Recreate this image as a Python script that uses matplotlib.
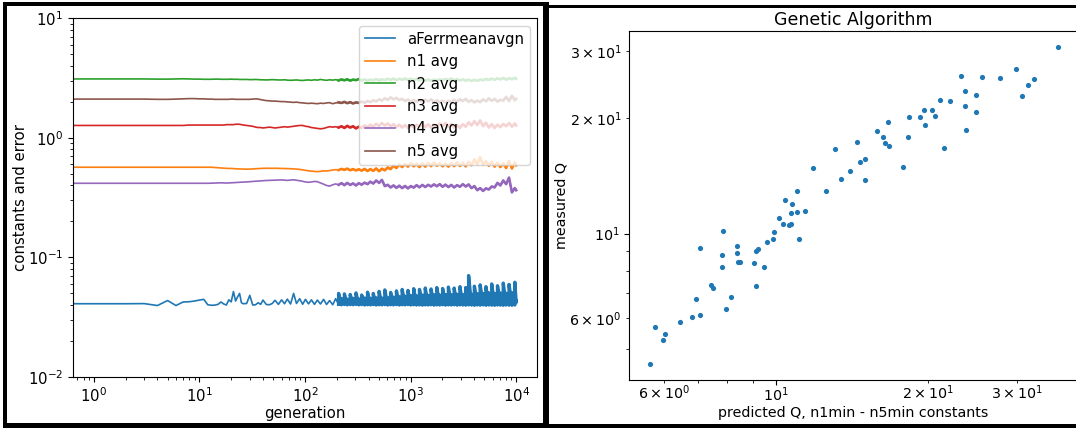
import matplotlib
matplotlib.use("Agg")
import matplotlib.pyplot as plt
from matplotlib.patches import Rectangle

W, H = 1076, 428

# ---- GA run history: per-generation averages ----
generation = [
    0, 1, 2, 3, 4, 5, 6, 7, 8, 9, 10, 11, 12, 13, 14, 15, 16, 17, 18, 19,
    20, 21, 22, 23, 24, 25, 26,
    28, 30, 32, 34, 36, 38, 40, 43, 46, 49, 52, 56, 60, 64, 68, 73, 78, 83, 89, 95,
    101, 108, 115, 123, 131, 140, 150, 160, 171, 183, 195,
    208, 222, 236, 251, 268, 285, 304, 323, 344, 367, 391, 416, 443, 472, 503, 535,
    570, 607, 647, 689, 734, 781, 832, 886, 944, 1005, 1071, 1140, 1214, 1293,
    1377, 1467, 1562, 1664, 1772, 1887, 2010, 2141, 2280, 2428, 2586, 2754, 2933,
    3124, 3327, 3543, 3773, 4019, 4280, 4558, 4854, 5170, 5506, 5864, 6245, 6651,
    7083, 7544, 8034, 8556, 9113, 9705, 9999,
]

err_avg = [
    0.0410, 0.0410, 0.0410, 0.0411, 0.0396, 0.0436, 0.0396, 0.0424, 0.0426, 0.0432,
    0.0440, 0.0446, 0.0402, 0.0398, 0.0399, 0.0405, 0.0424, 0.0408, 0.0400, 0.0442,
    0.0425, 0.0518, 0.0432, 0.0468, 0.0500, 0.0418, 0.0410,
    0.0412, 0.0482, 0.0400, 0.0402, 0.0418, 0.0405, 0.0440, 0.0404, 0.0402, 0.0412,
    0.0438, 0.0405, 0.0442, 0.0410, 0.0448, 0.0408, 0.0500, 0.0412, 0.0452, 0.0406,
    0.0446, 0.0409, 0.0442, 0.0405, 0.0440, 0.0408, 0.0446, 0.0404, 0.0436, 0.0402,
    0.0452,
    0.0405, 0.0402, 0.0404, 0.0401, 0.0403, 0.0402, 0.0404, 0.0401, 0.0403, 0.0400,
    0.0402, 0.0401, 0.0403, 0.0400, 0.0402, 0.0401, 0.0403, 0.0400, 0.0402, 0.0401,
    0.0403, 0.0400, 0.0402, 0.0401, 0.0403, 0.0400, 0.0402, 0.0400, 0.0401, 0.0399,
    0.0401, 0.0400, 0.0402, 0.0399, 0.0401, 0.0400, 0.0402, 0.0399, 0.0401, 0.0400,
    0.0402, 0.0399, 0.0401, 0.0400, 0.0399, 0.0401, 0.0400, 0.0398, 0.0400, 0.0399,
    0.0401, 0.0398, 0.0400, 0.0399, 0.0398, 0.0400, 0.0399, 0.0398, 0.0400, 0.0399,
    0.0398, 0.0400, 0.0420,
]

# upper excursions of the error trace from generation 208 onward
err_peak = [
    0.0500, 0.0452, 0.0495, 0.0448, 0.0490, 0.0455, 0.0505, 0.0450, 0.0485, 0.0458,
    0.0512, 0.0455, 0.0500, 0.0460, 0.0520, 0.0458, 0.0535, 0.0462, 0.0510, 0.0465,
    0.0525, 0.0470, 0.0540, 0.0475, 0.0530, 0.0480, 0.0548, 0.0478, 0.0540, 0.0485,
    0.0555, 0.0482, 0.0545, 0.0488, 0.0560, 0.0485, 0.0550, 0.0490, 0.0565, 0.0488,
    0.0555, 0.0492, 0.0570, 0.0490, 0.0560, 0.0705, 0.0495, 0.0575, 0.0498, 0.0590,
    0.0500, 0.0570, 0.0505, 0.0600, 0.0500, 0.0580, 0.0505, 0.0610, 0.0502, 0.0595,
    0.0508, 0.0620, 0.0430,
]

n1_avg = [
    0.568, 0.568, 0.568, 0.568, 0.568, 0.568, 0.568, 0.568, 0.568, 0.568,
    0.568, 0.568, 0.568, 0.568, 0.565, 0.563, 0.560, 0.558, 0.556, 0.555,
    0.555, 0.553, 0.552, 0.550, 0.550, 0.549, 0.548,
    0.547, 0.548, 0.550, 0.552, 0.553, 0.555, 0.556, 0.557, 0.557, 0.556,
    0.557, 0.556, 0.555, 0.554, 0.553, 0.552, 0.550, 0.548, 0.545, 0.540,
    0.535, 0.530, 0.527, 0.524, 0.522, 0.525, 0.530, 0.528, 0.533, 0.538,
    0.542,
    0.538, 0.550, 0.540, 0.553, 0.536, 0.548, 0.534, 0.546, 0.532, 0.550,
    0.528, 0.548, 0.530, 0.555, 0.526, 0.552, 0.535, 0.565, 0.548, 0.585,
    0.560, 0.598, 0.570, 0.605, 0.575, 0.615, 0.578, 0.608, 0.570, 0.612,
    0.575, 0.618, 0.580, 0.622, 0.585, 0.612, 0.578, 0.608, 0.575, 0.615,
    0.580, 0.625, 0.582, 0.618, 0.578, 0.630, 0.590, 0.660, 0.600, 0.690,
    0.595, 0.640, 0.585, 0.628, 0.575, 0.620, 0.570, 0.612, 0.560, 0.640,
    0.555, 0.625, 0.590,
]

n2_avg = [
    3.11, 3.11, 3.11, 3.11, 3.10, 3.10, 3.11, 3.12, 3.11, 3.10,
    3.10, 3.09, 3.09, 3.09, 3.10, 3.10, 3.09, 3.09, 3.09, 3.09,
    3.10, 3.09, 3.09, 3.09, 3.08, 3.08, 3.08,
    3.08, 3.07, 3.07, 3.08, 3.07, 3.06, 3.06, 3.05, 3.06, 3.07,
    3.06, 3.05, 3.05, 3.06, 3.04, 3.03, 3.04, 3.05, 3.03, 3.02,
    3.04, 3.05, 3.03, 3.06, 3.04, 3.08, 3.05, 3.03, 3.06, 3.04,
    3.07,
    3.02, 3.08, 3.03, 3.09, 3.01, 3.07, 3.04, 3.10, 3.02, 3.08,
    3.00, 3.07, 3.03, 3.10, 3.02, 3.09, 3.04, 3.12, 3.05, 3.13,
    3.04, 3.12, 3.06, 3.14, 3.05, 3.12, 3.03, 3.11, 3.02, 3.09,
    3.01, 3.08, 3.00, 3.07, 3.02, 3.09, 3.03, 3.11, 3.05, 3.13,
    3.04, 3.10, 3.02, 3.08, 3.01, 3.07, 2.99, 3.06, 3.00, 3.08,
    3.03, 3.11, 3.05, 3.13, 3.06, 3.15, 3.08, 3.17, 3.07, 3.16,
    3.09, 3.18, 3.12,
]

n3_avg = [
    1.27, 1.27, 1.27, 1.27, 1.27, 1.27, 1.27, 1.27, 1.28, 1.28,
    1.28, 1.28, 1.28, 1.28, 1.28, 1.28, 1.28, 1.28, 1.29, 1.29,
    1.29, 1.29, 1.30, 1.30, 1.30, 1.29, 1.28,
    1.27, 1.26, 1.25, 1.23, 1.22, 1.22, 1.21, 1.22, 1.23, 1.22,
    1.21, 1.22, 1.23, 1.24, 1.23, 1.24, 1.25, 1.26, 1.27, 1.27,
    1.25, 1.24, 1.22, 1.21, 1.20, 1.19, 1.20, 1.22, 1.24, 1.23,
    1.24,
    1.22, 1.25, 1.21, 1.26, 1.22, 1.25, 1.20, 1.24, 1.21, 1.27,
    1.23, 1.29, 1.24, 1.31, 1.26, 1.33, 1.27, 1.32, 1.25, 1.30,
    1.23, 1.29, 1.22, 1.28, 1.21, 1.27, 1.22, 1.29, 1.24, 1.31,
    1.23, 1.30, 1.22, 1.29, 1.24, 1.32, 1.25, 1.33, 1.24, 1.31,
    1.22, 1.28, 1.21, 1.30, 1.24, 1.35, 1.27, 1.38, 1.28, 1.40,
    1.25, 1.34, 1.22, 1.30, 1.21, 1.29, 1.23, 1.31, 1.25, 1.33,
    1.24, 1.32, 1.27,
]

n4_avg = [
    0.417, 0.417, 0.417, 0.417, 0.417, 0.417, 0.417, 0.417, 0.417, 0.417,
    0.417, 0.417, 0.417, 0.418, 0.419, 0.420, 0.421, 0.420, 0.419, 0.420,
    0.421, 0.422, 0.423, 0.424, 0.425, 0.426, 0.427,
    0.428, 0.430, 0.432, 0.434, 0.435, 0.437, 0.438, 0.440, 0.441, 0.442,
    0.443, 0.444, 0.445, 0.443, 0.441, 0.444, 0.446, 0.442, 0.438, 0.433,
    0.428, 0.425, 0.428, 0.432, 0.430, 0.420, 0.410, 0.400, 0.395, 0.405,
    0.412,
    0.405, 0.418, 0.402, 0.420, 0.404, 0.416, 0.400, 0.418, 0.406, 0.422,
    0.410, 0.430, 0.415, 0.440, 0.420, 0.445, 0.395, 0.405, 0.385, 0.400,
    0.382, 0.398, 0.380, 0.396, 0.378, 0.395, 0.384, 0.402, 0.386, 0.404,
    0.388, 0.405, 0.392, 0.408, 0.394, 0.410, 0.390, 0.406, 0.388, 0.404,
    0.385, 0.402, 0.390, 0.410, 0.392, 0.408, 0.380, 0.395, 0.365, 0.380,
    0.360, 0.378, 0.370, 0.392, 0.385, 0.420, 0.400, 0.440, 0.410, 0.465,
    0.350, 0.380, 0.365,
]

n5_avg = [
    2.11, 2.11, 2.11, 2.11, 2.10, 2.10, 2.11, 2.12, 2.13, 2.13,
    2.12, 2.12, 2.11, 2.11, 2.10, 2.10, 2.10, 2.10, 2.10, 2.10,
    2.11, 2.11, 2.10, 2.10, 2.10, 2.10, 2.10,
    2.10, 2.10, 2.11, 2.12, 2.11, 2.09, 2.07, 2.05, 2.04, 2.03,
    2.03, 2.02, 2.01, 2.01, 2.00, 1.99, 1.98, 1.99, 1.97, 1.96,
    1.95, 1.94, 1.95, 1.94, 1.93, 1.95, 1.94, 1.96, 1.97, 1.93,
    1.96,
    1.98, 1.96, 2.00, 1.95, 1.99, 1.94, 1.98, 1.96, 2.01, 1.97,
    2.03, 1.99, 2.06, 2.02, 2.10, 2.05, 2.14, 2.08, 2.18, 2.10,
    2.16, 2.07, 2.12, 2.03, 2.09, 2.01, 2.07, 2.00, 2.08, 2.01,
    2.09, 2.02, 2.10, 2.00, 2.06, 1.98, 2.05, 1.97, 2.04, 1.99,
    2.08, 2.01, 2.10, 2.03, 2.12, 2.00, 2.07, 1.98, 2.05, 1.99,
    2.10, 2.02, 2.14, 2.04, 2.12, 2.01, 2.08, 2.05, 2.20, 2.03,
    2.25, 2.06, 2.12,
]

series_labels = ["aFerrmeanavgn", "n1 avg", "n2 avg", "n3 avg", "n4 avg", "n5 avg"]

# ---- predicted vs. measured Q ----
pred_q = [
    5.61, 5.76, 5.95, 6.02, 6.43, 6.80, 6.93, 7.05, 7.07, 7.43,
    7.49, 7.79, 7.79, 7.84, 7.96, 8.15, 8.36, 8.37, 8.41, 8.48,
    9.02, 9.12, 9.12, 9.19, 9.44, 9.57, 9.86, 9.92, 10.11, 10.33,
    10.40, 10.61, 10.70, 10.71, 10.76, 11.00, 11.02, 11.12, 11.42, 11.82,
    12.56, 13.08, 13.45, 14.03, 14.43, 14.66, 15.03, 15.03, 15.83, 16.26,
    16.44, 16.67, 16.72, 17.82, 18.22, 18.33, 19.30, 19.64, 19.73, 20.39,
    20.64, 21.17, 21.50, 22.08, 23.28, 23.65, 23.72, 23.83, 24.86, 24.90,
    25.65, 27.82, 29.94, 30.70, 31.52, 32.43, 36.16,
]
meas_q = [
    4.55, 5.71, 5.26, 5.46, 5.87, 6.05, 6.76, 6.14, 9.17, 7.32,
    7.21, 8.78, 8.18, 10.16, 6.35, 6.83, 8.92, 9.30, 8.45, 8.41,
    8.36, 7.28, 9.01, 9.12, 8.18, 9.49, 9.68, 10.10, 11.01, 10.62,
    12.25, 10.51, 10.60, 11.30, 11.96, 12.93, 11.39, 9.68, 11.46, 14.83,
    12.88, 16.63, 13.85, 14.53, 17.38, 15.40, 15.62, 13.76, 18.53, 17.91,
    17.27, 19.52, 16.96, 14.94, 17.91, 20.12, 20.20, 21.07, 19.21, 20.99,
    20.28, 22.34, 16.73, 22.25, 25.86, 23.58, 21.50, 18.68, 22.97, 20.78,
    25.60, 25.45, 26.98, 22.88, 24.50, 25.35, 30.74,
]

fig = plt.figure(figsize=(W / 100, H / 100), dpi=100)

# ---------------- left: constants and error vs generation ----------------
axl = fig.add_axes([72.7 / W, 1 - 377.0 / H, (537.3 - 72.7) / W, (377.0 - 18.3) / H])

k0 = generation.index(208)
# dense late-generation stretch: each generation spans its floor and its peak
dense_x, dense_y = [], []
for g, lo, hi in zip(generation[k0:], err_avg[k0:], err_peak):
    dense_x += [g, g]
    dense_y += [lo, hi]

lw = 1.2
lw_dense = 2.4
colors = ["C0", "C1", "C2", "C3", "C4", "C5"]

axl.plot(generation[:k0 + 1], err_avg[:k0 + 1], lw=lw, color=colors[0],
         label=series_labels[0])
axl.plot(dense_x, dense_y, lw=lw_dense, color=colors[0])

for vals, lab, c in zip([n1_avg, n2_avg, n3_avg, n4_avg, n5_avg],
                        series_labels[1:], colors[1:]):
    axl.plot(generation, vals, lw=lw, color=c, label=lab)
    axl.plot(generation[k0:], vals[k0:], lw=1.9, color=c)

axl.set_xscale("log")
axl.set_yscale("log")
axl.set_ylim(1e-2, 1e1)
fs_l = 10.7
axl.set_xlabel("generation", fontsize=fs_l, labelpad=0.5)
axl.set_ylabel("constants and error", fontsize=fs_l, labelpad=0)
axl.tick_params(labelsize=fs_l)
axl.legend(loc="upper right", fontsize=fs_l)

# ---------------- right: Genetic Algorithm scatter ----------------
axr = fig.add_axes([629.3 / W, 1 - 380.3 / H, (1078.0 - 629.3) / W, (380.3 - 31.0) / H])
axr.scatter(pred_q, meas_q, s=14, linewidths=0, color="#1f77b4")
axr.set_xscale("log")
axr.set_yscale("log")
fs_r = 10.3
axr.set_title("Genetic Algorithm", fontsize=12.5, pad=4)
axr.set_xlabel("predicted Q, n1min - n5min constants", fontsize=fs_r, labelpad=1)
axr.set_ylabel("measured Q", fontsize=fs_r, labelpad=0.5)
axr.tick_params(which="both", labelsize=fs_r)
axr.tick_params(axis="x", which="both", pad=0.5)


# ---------------- black panel frames ----------------
def frame_bar(x0, y0, x1, y1):
    fig.add_artist(Rectangle((x0 / W, 1 - y1 / H), (x1 - x0) / W, (y1 - y0) / H,
                             transform=fig.transFigure, facecolor="black",
                             edgecolor="none", zorder=10))


frame_bar(3, 2, 548, 6)
frame_bar(3, 2, 7, 428)
frame_bar(543, 2, 548.5, 428)
frame_bar(3, 423, 548, 428)
frame_bar(548, 5, W, 7.5)
frame_bar(548, 424, W, 428)

fig.savefig("out.png", dpi=100)
